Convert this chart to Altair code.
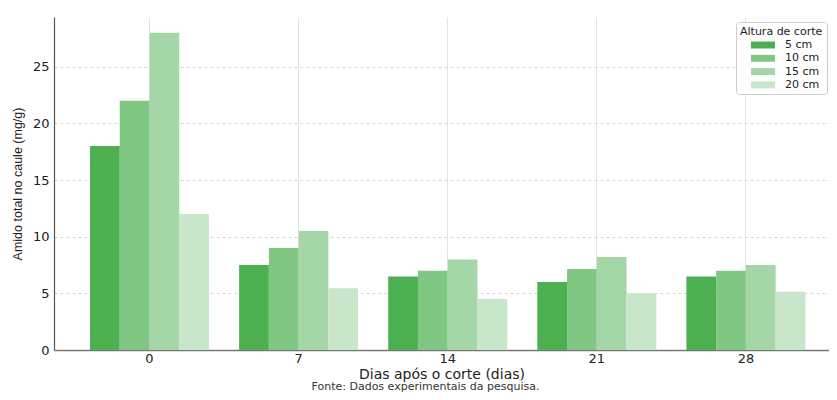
import altair as alt
import pandas as pd

dias = ["0", "7", "14", "21", "28"]
alturas = ["5 cm", "10 cm", "15 cm", "20 cm"]
v5 = [18.0, 7.5, 6.5, 6.0, 6.5]
v10 = [22.0, 9.0, 7.0, 7.15, 7.0]
v15 = [28.0, 10.5, 8.0, 8.2, 7.5]
v20 = [12.0, 5.45, 4.5, 5.0, 5.15]
cores = ["#4caf50", "#81c784", "#a5d6a7", "#c8e6c9"]

rows = []
for alt_name, vals in zip(alturas, [v5, v10, v15, v20]):
    for d, v in zip(dias, vals):
        rows.append({"dia": d, "altura": alt_name, "amido": v})
df = pd.DataFrame(rows)

chart = alt.Chart(df).mark_bar().encode(
    x=alt.X("dia:N", sort=dias,
            scale=alt.Scale(paddingInner=0.202, paddingOuter=0.2, align=0.604),
            axis=alt.Axis(title="Dias após o corte (dias)", labelAngle=0,
                          grid=True, gridColor="#dddddd", gridWidth=0.8,
                          bandPosition=0.5, ticks=False,
                          domainColor="#777", domainWidth=1.6,
                          labelFont="DejaVu Sans", labelFontSize=13, labelColor="#222",
                          titleFont="DejaVu Sans", titleFontSize=14, titleFontWeight="normal",
                          titleColor="#222", titlePadding=2, labelPadding=2)),
    xOffset=alt.XOffset("altura:N", sort=alturas,
                        scale=alt.Scale(paddingInner=0, paddingOuter=0)),
    y=alt.Y("amido:Q", scale=alt.Scale(domain=[0, 29.4], nice=False),
            axis=alt.Axis(title="Amido total no caule (mg/g)", values=[0, 5, 10, 15, 20, 25],
                          grid=True, gridColor="#cccccc", gridDash=[3, 3], gridWidth=0.8,
                          ticks=False, domainColor="#555", domainWidth=1.2,
                          labelFont="DejaVu Sans", labelFontSize=13, labelColor="#222",
                          labelPadding=5,
                          titleFont="Liberation Sans", titleFontSize=12.5, titleFontWeight="normal",
                          titleColor="#222", titlePadding=8)),
    color=alt.Color("altura:N", sort=alturas,
                    scale=alt.Scale(domain=alturas, range=cores),
                    legend=alt.Legend(title="Altura de corte", orient="none", legendX=682, legendY=5,
                                      strokeColor="#cccccc", fillColor="white", padding=4,
                                      cornerRadius=3, titleFontSize=11, labelFontSize=11,
                                      titleFont="DejaVu Sans", labelFont="DejaVu Sans",
                                      titleFontWeight="normal", titleColor="#222", labelColor="#222",
                                      titlePadding=2,
                                      symbolType="M -2 -0.58 L 2 -0.58 L 2 0.58 L -2 0.58 Z",
                                      symbolSize=144, symbolStrokeWidth=0, symbolOffset=17,
                                      labelOffset=16, rowPadding=2.3)),
).properties(
    width=775, height=333,
    title=alt.TitleParams(text="Fonte: Dados experimentais da pesquisa.", orient="bottom",
                          anchor="middle", fontSize=11, fontWeight="normal", color="#333",
                          font="DejaVu Sans", offset=0, dx=-16),
    autosize=alt.AutoSizeParams(type="none"),
    padding={"left": 46, "top": 9, "right": 0, "bottom": 42},
).configure_view(stroke=None)

chart.save("out.html", embed_options={"renderer": "svg", "actions": False})
